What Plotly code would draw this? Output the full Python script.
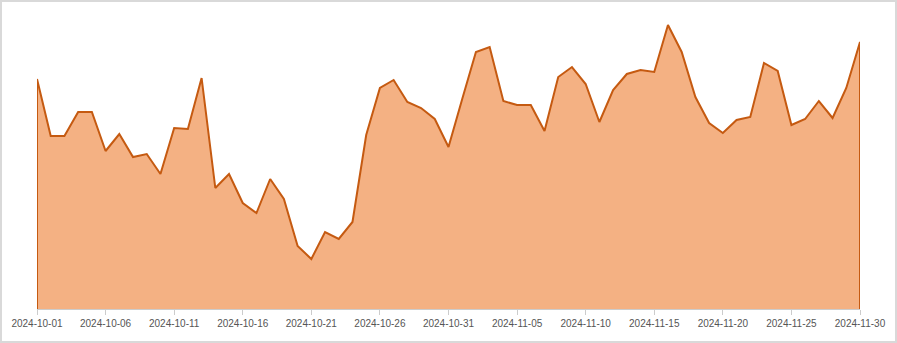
import plotly.graph_objects as go
import pandas as pd

dates = pd.date_range("2024-10-01", "2024-11-30", freq="D").strftime("%Y-%m-%d").tolist()
values = [230, 173, 173, 197, 197, 158, 175, 152, 155, 135,
          181, 180, 231, 121, 135, 106, 96, 130, 110, 63,
          50, 77, 70, 87, 174, 221, 229, 207, 201, 190,
          162, 210, 257, 262, 208, 204, 204, 178, 232, 242,
          225, 187, 219, 235, 239, 237, 284, 257, 212, 186,
          176, 189, 192, 246, 238, 184, 190, 208, 191, 221,
          267]
tick_vals = dates[::5]

# close the outline with vertical edges at both ends
xs = [dates[0]] + dates + [dates[-1]]
ys = [0] + values + [0]

W, H = 897, 343
L, R, T, B = 37, 37, 9, 34
pw, ph = W - L - R, H - T - B

fig = go.Figure()
fig.add_trace(go.Scatter(
    x=xs, y=ys, mode="lines", fill="tozeroy",
    fillcolor="#f4b183",
    line=dict(color="#c55a11", width=2),
    hoverinfo="skip", showlegend=False,
))

def px(x):
    return (x - L) / pw

def py(y):
    return (H - B - y) / ph

fig.add_shape(type="rect", xref="paper", yref="paper",
              x0=px(1), x1=px(W - 1), y0=py(H - 1), y1=py(1),
              line=dict(color="#d9d9d9", width=2), layer="below")

fig.update_layout(
    width=W, height=H,
    margin=dict(l=L, r=R, t=T, b=B),
    paper_bgcolor="white", plot_bgcolor="white",
    font=dict(family="Liberation Sans, Arial, sans-serif", size=10, color="#555555"),
    xaxis=dict(
        type="date", range=[dates[0], dates[-1]],
        tickvals=tick_vals, tickformat="%Y-%m-%d",
        showgrid=False, zeroline=False,
        showline=True, linecolor="#cccccc", linewidth=1,
        ticks="outside", ticklen=5, tickcolor="#cccccc",
    ),
    yaxis=dict(range=[0, 300], visible=False, showgrid=False, zeroline=False),
)

fig.write_html("out.html")
